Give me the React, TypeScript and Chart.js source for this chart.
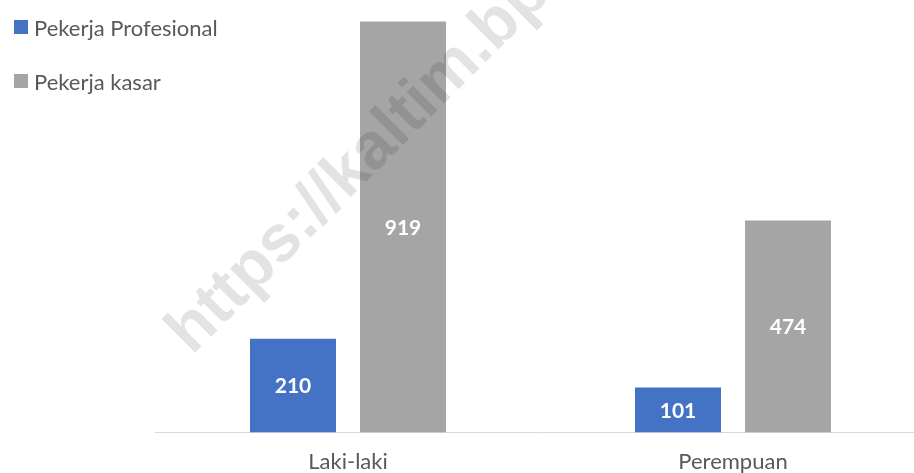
import React, { useEffect, useRef } from "react";
import { Chart, registerables } from "chart.js";

Chart.register(...registerables);

const categories = ["Laki-laki", "Perempuan"];
const seriesNames = ["Pekerja Profesional", "Pekerja kasar"];
const profesional = [210, 101];
const kasar = [919, 474];
const seriesColors = ["#4472C4", "#A5A5A5"];
const watermarkText = "https://kaltim.bps.go.id";

const FONT = "Lato, 'Liberation Sans', sans-serif";

const valueLabels = {
  id: "valueLabels",
  afterDatasetsDraw(chart: any) {
    const ctx = chart.ctx;
    ctx.save();
    ctx.font = `bold 21px ${FONT}`;
    ctx.fillStyle = "#FFFFFF";
    ctx.textAlign = "center";
    ctx.textBaseline = "middle";
    chart.data.datasets.forEach((ds: any, i: number) => {
      const meta = chart.getDatasetMeta(i);
      meta.data.forEach((el: any, j: number) => {
        const p = el.getProps(["x", "y", "base"], true);
        ctx.fillText(String(ds.data[j]), p.x, (p.y + p.base) / 2 + 1);
      });
    });
    ctx.restore();
  },
};

const watermark = {
  id: "watermark",
  afterDraw(chart: any) {
    const ctx = chart.ctx;
    ctx.save();
    ctx.translate(192, 356);
    ctx.rotate(-Math.PI / 4);
    ctx.font = `bold 66px 'Liberation Sans', Arial, sans-serif`;
    ctx.fillStyle = "rgba(0,0,0,0.11)";
    ctx.textAlign = "left";
    ctx.textBaseline = "alphabetic";
    ctx.fillText(watermarkText, 0, 0);
    ctx.restore();
  },
};

export default function App() {
  const ref = useRef<HTMLCanvasElement>(null);
  useEffect(() => {
    if (!ref.current) return;
    const chart = new Chart(ref.current, {
      type: "bar",
      data: {
        labels: categories,
        datasets: [
          {
            label: seriesNames[0],
            data: profesional,
            backgroundColor: seriesColors[0],
            barPercentage: 0.782,
            categoryPercentage: 0.5714,
          },
          {
            label: seriesNames[1],
            data: kasar,
            backgroundColor: seriesColors[1],
            barPercentage: 0.782,
            categoryPercentage: 0.5714,
          },
        ],
      },
      options: {
        animation: false,
        responsive: false,
        maintainAspectRatio: false,
        layout: { padding: { left: 155.5, right: 14.5, top: 0, bottom: 0 } },
        plugins: {
          legend: { display: false },
          tooltip: { enabled: false },
        },
        scales: {
          x: {
            grid: { display: false, drawTicks: false },
            border: { display: true, color: "#D9D9D9", width: 1 },
            ticks: {
              color: "#595959",
              font: { family: FONT, size: 22 },
              padding: 16,
            },
          },
          y: {
            display: false,
            min: 0,
            max: 967,
          },
        },
      },
      plugins: [valueLabels, watermark],
    });
    return () => chart.destroy();
  }, []);

  const legendTops = [20, 74];
  return (
    <div
      style={{
        position: "fixed",
        left: 0,
        top: 0,
        width: 914,
        height: 473,
        overflow: "hidden",
        background: "#fff",
      }}
    >
      <canvas ref={ref} width={940} height={491} style={{ display: "block", width: 940, height: 491 }} />
      {seriesNames.map((name, i) => (
        <div
          key={name}
          style={{
            position: "absolute",
            left: 14,
            top: legendTops[i],
            height: 14,
            display: "flex",
            alignItems: "center",
            fontFamily: FONT,
            fontSize: 22,
            color: "#595959",
            whiteSpace: "nowrap",
          }}
        >
          <span style={{ display: "inline-block", width: 14, height: 14, background: seriesColors[i], marginRight: 6 }} />
          <span>{name}</span>
        </div>
      ))}
    </div>
  );
}
